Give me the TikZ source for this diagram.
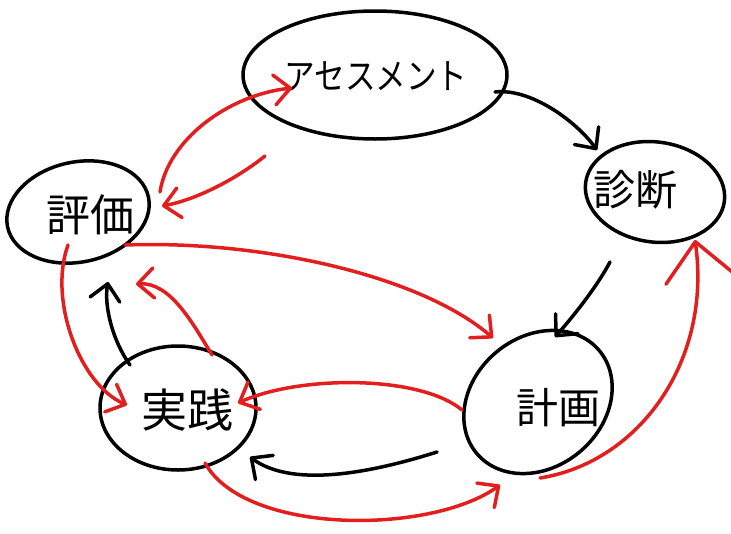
\documentclass[tikz,border=0pt]{standalone}
\usepackage{fontspec}
\newfontfamily\jp{Noto Sans CJK JP}
\usetikzlibrary{shapes.geometric,arrows.meta,calc}
\definecolor{penred}{RGB}{226,30,30}
\begin{document}
\begin{tikzpicture}[x=1pt,y=-1pt,
  ring/.style={ellipse,draw,line width=3.5pt,inner sep=0pt},
  word/.style={font=\jp\fontsize{#1}{#1}\selectfont,inner sep=0pt},
  ink/.style={line width=3.5pt,line cap=round,line join=round,
    -{Straight Barb[length=16pt,width=30pt,round]}},
  redink/.style={ink,draw=penred},
  bighead/.style={-{Straight Barb[length=38pt,width=70pt,round]}},
]
\useasboundingbox (0,0) rectangle (731,533);

% stages of the cycle
\node[ring,minimum width=264pt,minimum height=128pt] (A) at (375,75) {};
\node[word=36,xscale=0.85] (At) at (376,76) {アセスメント};

\node[ring,minimum width=140pt,minimum height=100pt,rotate=-8] (D) at (655,192) {};
\node[word=42] (Dt) at (635,190) {診断};

\node[ring,minimum width=144pt,minimum height=100pt,rotate=12] (H) at (78,212) {};
\node[word=44] (Ht) at (90,215) {評価};

\node[ring,minimum width=156pt,minimum height=124pt] (J) at (178,408) {};
\node[word=46] (Jt) at (187,410) {実践};

\node[ring,minimum width=160pt,minimum height=130pt,rotate=40] (K) at (538,402) {};
\node[word=42] (Kt) at (558,408) {計画};

% main cycle (black)
\draw[ink] ($(A)+(120,17)$) .. controls (530,88) and (575,120) .. ($(D)+(-58,-42)$);
\draw[ink] ($(D)+(-45,70)$) .. controls (595,290) and (570,320) .. ($(K)+(17,-65)$);
\draw[ink] ($(K)+(-101,50)$) .. controls (380,470) and (295,490) .. ($(J)+(72,49)$);
\draw[ink] ($(J)+(-48,-43)$) .. controls (112,340) and (104,305) .. ($(H)+(30,70)$);

% feedback paths (red)
\draw[redink] ($(H)+(82,-20)$) .. controls (168,140) and (228,95) .. ($(A)+(-83,13)$);
\draw[redink] ($(A)+(-110,81)$) .. controls (235,180) and (195,200) .. ($(H)+(84,-6)$);
\draw[redink] ($(H)+(47,33)$) .. controls (260,240) and (420,275) .. ($(K)+(-45,-64)$);
\draw[redink] ($(J)+(34,-53)$) .. controls (192,322) and (170,282) .. ($(H)+(58,72)$);
\draw[redink] ($(H)+(-10,33)$) .. controls (48,300) and (80,385) .. ($(J)+(-51,-3)$);
\draw[redink] ($(K)+(-76,8)$) .. controls (420,375) and (300,375) .. ($(J)+(60,-5)$);
\draw[redink] ($(J)+(27,55)$) .. controls (245,535) and (430,535) .. ($(K)+(-38,83)$);
\draw[redink,bighead] ($(K)+(2,76)$) .. controls (640,462) and (712,360) .. ($(D)+(40,48)$);
\end{tikzpicture}
\end{document}
